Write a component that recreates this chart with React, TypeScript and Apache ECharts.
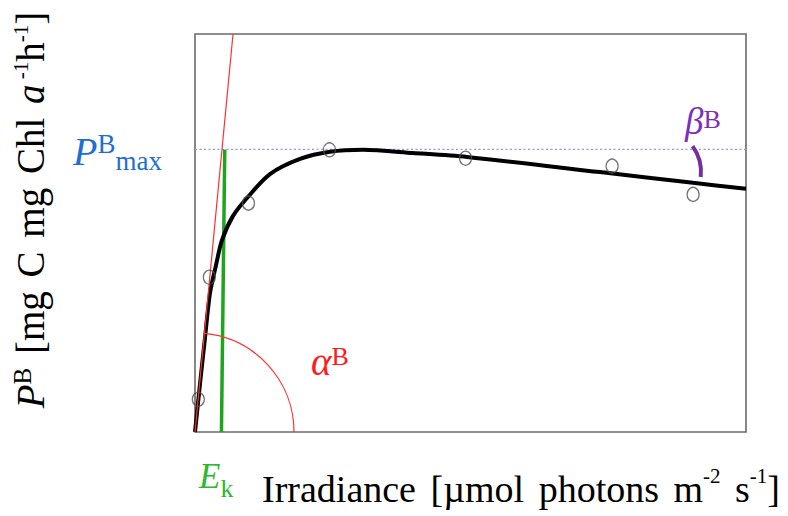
import React, { useEffect, useRef } from "react";
import * as echarts from "echarts";

// Axis ranges (arbitrary units: irradiance 0-1000, production 0-100)
const X_MIN = 0;
const X_MAX = 1000;
const Y_MIN = 0;
const Y_MAX = 100;

// Fitted P-I curve
const curveX = [0, 9.1, 18.1, 27.2, 38.1, 49.0, 69.0, 94.4, 136.1, 190.6, 245.0, 304.9, 395.6, 493.6, 735.0, 903.8, 1000];
const curveY = [0, 12.1, 23.6, 34.9, 41.9, 48.2, 54.3, 58.8, 64.8, 68.6, 70.4, 70.9, 70.1, 69.1, 65.3, 62.6, 61.1];

// Measured points
const sampleX = [6, 26, 97, 244, 491, 757, 904];
const sampleY = [8.2, 38.9, 57.5, 70.9, 68.8, 66.8, 59.7];

// Characteristic values
const P_MAX = 71;
const alphaLineX = [0, 69];
const alphaLineY = [0, 100];
const ekLineX = [48, 54];
const ekLineY = [0, 71];

const SERIF = "'Liberation Serif', 'Times New Roman', serif";
const K = 0.3375; // (ascent - descent) / 2 for Liberation Serif

function tok(fs: number, baseline: number, fill: string, italic = false, padLeft = 0) {
  const h = 2 * (baseline - K * fs);
  const s: any = {
    fontSize: fs,
    fontFamily: SERIF,
    fontStyle: italic ? "italic" : "normal",
    fill,
    color: fill,
    verticalAlign: "top",
    height: h,
    lineHeight: h,
  };
  if (padLeft) s.padding = [0, 0, 0, padLeft];
  return s;
}

export default function App() {
  const ref = useRef<HTMLDivElement>(null);

  useEffect(() => {
    if (!ref.current) return;
    const chart = echarts.init(ref.current, undefined, { renderer: "svg" });

    const option: any = {
      animation: false,
      backgroundColor: "#ffffff",
      grid: {
        left: 195,
        top: 34,
        width: 551,
        height: 398,
        show: true,
        borderColor: "#6a6a6a",
        borderWidth: 1.6,
        backgroundColor: "transparent",
      },
      xAxis: {
        type: "value",
        min: X_MIN,
        max: X_MAX,
        axisLine: { show: false },
        axisTick: { show: false },
        axisLabel: { show: false },
        splitLine: { show: false },
      },
      yAxis: {
        type: "value",
        min: Y_MIN,
        max: Y_MAX,
        axisLine: { show: false },
        axisTick: { show: false },
        axisLabel: { show: false },
        splitLine: { show: false },
      },
      series: [
        {
          type: "line",
          name: "Pmax",
          data: [
            [X_MIN, P_MAX],
            [X_MAX, P_MAX],
          ],
          symbol: "none",
          lineStyle: { color: "#9494ff", width: 1.2, type: [2, 2.5] },
          z: 1,
        },
        {
          type: "line",
          name: "Ek",
          data: ekLineX.map((x, i) => [x, ekLineY[i]]),
          symbol: "none",
          lineStyle: { color: "#1ea51e", width: 3.5 },
          z: 2,
        },
        {
          type: "line",
          name: "curve",
          data: curveX.map((x, i) => [x, curveY[i]]),
          symbol: "none",
          smooth: 0.3,
          lineStyle: { color: "#000000", width: 4 },
          z: 3,
        },
        {
          type: "line",
          name: "alpha",
          data: alphaLineX.map((x, i) => [x, alphaLineY[i]]),
          symbol: "none",
          clip: true,
          lineStyle: { color: "#ff3030", width: 1.2 },
          z: 4,
        },
        {
          type: "scatter",
          name: "samples",
          data: sampleX.map((x, i) => [x, sampleY[i]]),
          symbol: "circle",
          symbolSize: [12, 14],
          itemStyle: { color: "rgba(255,255,255,0)", borderColor: "#505050", borderWidth: 1.3 },
          z: 5,
        },
      ],
    };
    chart.setOption(option);

    const c = chart.convertToPixel({ gridIndex: 0 }, [0, 0]) as number[];
    const a2 = chart.convertToPixel({ gridIndex: 0 }, [alphaLineX[1], alphaLineY[1]]) as number[];
    const alphaAngle = Math.atan2(a2[1] - c[1], a2[0] - c[0]);
    const bc = chart.convertToPixel({ gridIndex: 0 }, [838.5, 65.3]) as number[];

    const red = "#ff1a1a";
    const blue = "#1f6fd0";
    const green = "#2db82d";
    const purple = "#7a30b8";

    chart.setOption({
      graphic: [
        {
          type: "arc",
          z: 20,
          shape: { cx: c[0], cy: c[1], r: 99, startAngle: alphaAngle, endAngle: 0, clockwise: true },
          style: { stroke: "#ff3030", fill: null, lineWidth: 1.2 },
        },
        {
          type: "arc",
          z: 20,
          shape: { cx: bc[0], cy: bc[1], r: 44, startAngle: -0.63, endAngle: 0.11, clockwise: true },
          style: { stroke: "#7030a0", fill: null, lineWidth: 4 },
        },
        // Y axis title (rotated)
        {
          type: "text",
          z: 30,
          x: 4,
          y: 210,
          rotation: Math.PI / 2,
          style: {
            text: "{pi|P}{b|B}{w| [mg}{w| C}{w| mg}{w| Chl}{wi| a}{s| -1}{m|h}{s|-1}{m|]}",
            align: "center",
            verticalAlign: "top",
            rich: {
              pi: tok(39, 40, "#000", true),
              b: tok(25, 27, "#000"),
              m: tok(39, 40, "#000"),
              w: tok(39, 40, "#000", false, 4),
              wi: tok(39, 40, "#000", true, 4),
              s: tok(21, 24, "#000"),
            },
          },
        },
        // X axis title
        {
          type: "text",
          z: 30,
          x: 262,
          y: 462,
          style: {
            text: "{m|Irradiance}{w| [\u00b5mol}{w| photons}{w| m}{s|-2}{w| s}{s|-1}{m|]}",
            align: "left",
            verticalAlign: "top",
            rich: {
              m: tok(38, 40, "#000"),
              w: tok(38, 40, "#000", false, 5),
              s: tok(21, 21, "#000"),
            },
          },
        },
        // Ek label
        {
          type: "text",
          z: 30,
          x: 199,
          y: 450,
          style: {
            text: "{e|E}{k|k}",
            align: "left",
            verticalAlign: "top",
            rich: {
              e: tok(35, 38, green, true),
              k: tok(26, 47, green),
            },
          },
        },
        // Pmax label
        {
          type: "text",
          z: 30,
          x: 73,
          y: 120,
          style: {
            text: "{p|P}{b|B}{s|max}",
            align: "left",
            verticalAlign: "top",
            rich: {
              p: tok(40, 45, blue, true),
              b: tok(27, 33, blue),
              s: tok(27, 50, blue),
            },
          },
        },
        // alpha label
        {
          type: "text",
          z: 30,
          x: 311,
          y: 330,
          style: {
            text: "{a|\u03b1}{b|B}",
            align: "left",
            verticalAlign: "top",
            rich: {
              a: tok(39, 45, red, true),
              b: tok(26, 35, red),
            },
          },
        },
        // beta label
        {
          type: "text",
          z: 30,
          x: 685,
          y: 100,
          style: {
            text: "{a|\u03b2}{b|B}",
            align: "left",
            verticalAlign: "top",
            rich: {
              a: tok(37, 34, purple, true),
              b: tok(26, 28, purple),
            },
          },
        },
      ],
    });

    return () => {
      chart.dispose();
    };
  }, []);

  return (
    <div
      ref={ref}
      style={{ position: "fixed", left: 0, top: 0, width: 788, height: 516, background: "#fff" }}
    />
  );
}
